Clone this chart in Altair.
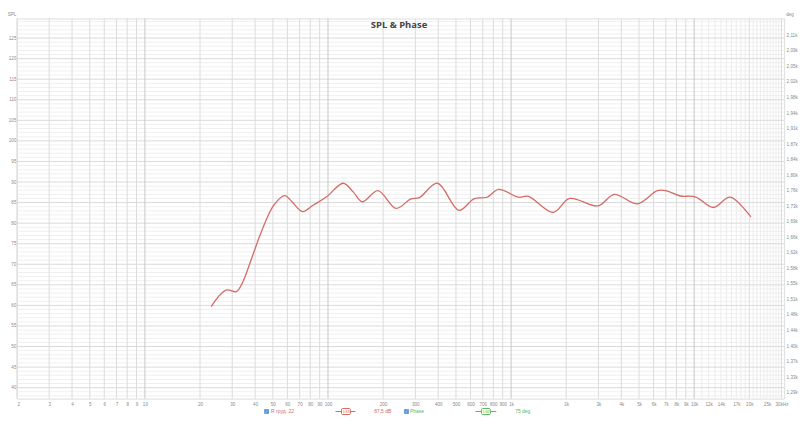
import altair as alt
import pandas as pd

# ---- data ----
freq = [23.0, 27.7, 31.6, 34.1, 38.6, 43.7, 50.6, 58.0, 63.6, 72.6,
        83.3, 98.3, 121.1, 137.2, 154.1, 187.4, 235.5, 283.9, 315.3, 396.2,
        519.3, 626.2, 739.1, 855.3, 1097.5, 1243, 1698, 2089, 2978, 3662,
        4904, 6292, 6980, 8414, 10146, 12752, 15702, 20400]
spl = [59.7, 63.7, 63.35, 65.5, 71.9, 78.4, 84.4, 86.7, 85.2, 82.8,
       84.4, 86.4, 89.7, 87.6, 85.2, 87.9, 83.6, 85.9, 86.2, 89.7,
       83.1, 85.9, 86.3, 88.2, 86.3, 86.5, 82.6, 86.0, 84.2, 87.0,
       84.7, 87.9, 87.9, 86.6, 86.4, 83.8, 86.3, 81.5]

x_ticks = [2, 3, 4, 5, 6, 7, 8, 9, 10, 20, 30, 40, 50, 60, 70, 80, 90, 100,
           200, 300, 400, 500, 600, 700, 800, 900, 1000, 2000, 3000, 4000,
           5000, 6000, 7000, 8000, 9000, 10000, 12000, 14000, 17000, 20000,
           25000, 30000]
x_labels = ["2", "3", "4", "5", "6", "7", "8", "9", "10", "20", "30", "40",
            "50", "60", "70", "80", "90", "100", "200", "300", "400", "500",
            "600", "700", "800", "900", "1k", "2k", "3k", "4k", "5k", "6k",
            "7k", "8k", "9k", "10k", "12k", "14k", "17k", "20k", "25k", "30kHz"]
y_ticks = [40, 45, 50, 55, 60, 65, 70, 75, 80, 85, 90, 95, 100, 105, 110,
           115, 120, 125]
deg_labels = ["1,29k", "1,33k", "1,37k", "1,40k", "1,44k", "1,48k", "1,51k",
              "1,55k", "1,58k", "1,62k", "1,66k", "1,69k", "1,73k", "1,76k",
              "1,80k", "1,84k", "1,87k", "1,91k", "1,94k", "1,98k", "2,02k",
              "2,05k", "2,09k", "2,11k"]

# ---- grid positions ----
v_major = [10, 100, 1000, 10000]
v_mid = [m * d for d in [1, 10, 100, 1000] for m in range(2, 10)] + [20000, 30000]
v_minor = [k * 1000 for k in range(11, 31) if k not in (20, 30)]
h_major = list(range(40, 130, 5))
h_minor = [v for v in range(38, 130) if v % 5 != 0]

W, H = 773, 383
x_scale = alt.Scale(type="log", domain=[2, 31000], nice=False)
y_scale = alt.Scale(domain=[37.34, 129.76], nice=False, zero=False)
FONT = "Liberation Sans"
LBL = "#8a8a8a"
FS = 4.6

xs = ",".join(str(v) for v in x_ticks)
xl = ",".join("'" + s + "'" for s in x_labels)
x_axis = alt.Axis(values=x_ticks, labelExpr=f"[{xl}][indexof([{xs}], datum.value)]",
                  title=None, grid=False, ticks=False, domain=False, labelPadding=3,
                  labelFontSize=FS, labelColor=LBL, labelFont=FONT, labelOverlap=False)
y_axis = alt.Axis(values=y_ticks, title=None, grid=False, ticks=False, domain=False,
                  labelPadding=1, labelFontSize=FS, labelColor=LBL, labelFont=FONT)

def vrules(vals, color):
    return alt.Chart(pd.DataFrame({"f": vals})).mark_rule(color=color, strokeWidth=1).encode(
        x=alt.X("f:Q", scale=x_scale, axis=x_axis))

def hrules(vals, color):
    return alt.Chart(pd.DataFrame({"v": vals})).mark_rule(color=color, strokeWidth=1).encode(
        y=alt.Y("v:Q", scale=y_scale, axis=y_axis))

grid = [
    hrules(h_minor, "#f0f0f0"),
    vrules(v_minor, "#ececec"),
    hrules(h_major, "#dadada"),
    vrules(v_mid, "#dcdcdc"),
    vrules(v_major, "#c8c8c8"),
]

line = alt.Chart(pd.DataFrame({"f": freq, "spl": spl})).mark_line(
    color="#d46b64", strokeWidth=1.3, interpolate="catmull-rom").encode(
    x=alt.X("f:Q", scale=x_scale, axis=x_axis),
    y=alt.Y("spl:Q", scale=y_scale, axis=y_axis),
)

one = pd.DataFrame({"a": [1]})

def txt(s, x, y, color, size=5.0, weight="normal", align="left", font=FONT):
    return alt.Chart(one).mark_text(text=s, color=color, fontSize=size, fontWeight=weight,
                                    align=align, baseline="middle", font=font).encode(
        x=alt.value(x), y=alt.value(y))

def box(x, y, color):
    return alt.Chart(one).mark_rect(fill="white", stroke=color, strokeWidth=1,
                                    cornerRadius=1).encode(
        x=alt.value(x), x2=alt.value(x + 9), y=alt.value(y - 3), y2=alt.value(y + 3))

def seg(x1, x2, y, color):
    return alt.Chart(one).mark_rule(color=color, strokeWidth=1).encode(
        x=alt.value(x1), x2=alt.value(x2), y=alt.value(y))

def check(x, y):
    return alt.Chart(one).mark_square(size=22, color="#4a8fd8", opacity=1).encode(
        x=alt.value(x), y=alt.value(y))

RED = "#d46b64"
GRN = "#5cb85c"
LY = 396
decor = [
    txt("SPL & Phase", 385, 7, "#444444", size=9.5, weight="bold", align="center", font="Open Sans"),
    txt("SPL", -5, -3, LBL, size=4.6, align="center"),
    txt("deg", 779, -3, LBL, size=4.6, align="center"),
    check(251.5, LY), txt("✓", 251.5, LY, "white", size=4.5, align="center", font="DejaVu Sans"),
    txt("R груд. 22", 256, LY, RED),
    seg(321, 341, LY, RED), box(327, LY, RED), txt("1/48", 331.5, LY, RED, size=3.5, align="center"),
    txt("87,5 dB", 360, LY, RED),
    check(392.5, LY), txt("✓", 392.5, LY, "white", size=4.5, align="center", font="DejaVu Sans"),
    txt("Phase", 396, LY, GRN),
    seg(462, 483, LY, GRN), box(468, LY, GRN), txt("1/48", 472.5, LY, GRN, size=3.5, align="center"),
    txt("75 deg", 502, LY, GRN),
]

dl = ",".join("'" + s + "'" for s in deg_labels)
right = alt.Chart(pd.DataFrame({"i": list(range(len(deg_labels)))})).mark_point(opacity=0).encode(
    y=alt.Y("i:Q", scale=alt.Scale(domain=[-0.384, 24.09], nice=False, zero=False),
            axis=alt.Axis(orient="right", values=list(range(len(deg_labels))),
                          labelExpr=f"[{dl}][datum.value]", title=None, grid=False,
                          ticks=False, domain=False, labelPadding=2, labelFontSize=FS,
                          labelColor=LBL, labelFont=FONT)))

main = alt.layer(*grid, line, *decor)
chart = alt.layer(main, right).resolve_scale(y="independent").properties(
    width=W, height=H, autosize="none",
    padding={"left": 9, "top": 9, "right": 18, "bottom": 20},
).configure_view(stroke="#d0d0d0", strokeWidth=1).configure(background="white")

chart.save("out.html", embed_options={"renderer": "svg", "actions": False})
